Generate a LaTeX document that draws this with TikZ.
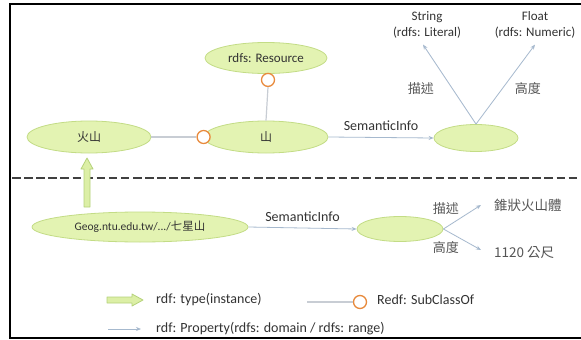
\documentclass[tikz,border=0pt]{standalone}
\usepackage{fontspec}
\setmainfont{Carlito}
\newfontfamily\cjk{Noto Sans CJK TC}
\usetikzlibrary{shapes.geometric,arrows.meta,calc}

\definecolor{ellfill}{HTML}{E3F3B2}
\definecolor{elldraw}{HTML}{C3DC86}
\definecolor{linkcol}{HTML}{A6B9CE}
\definecolor{subcol}{HTML}{C8CDD4}
\definecolor{ringcol}{HTML}{E88A3C}
\definecolor{txtcol}{HTML}{333333}
\definecolor{cjkcol}{HTML}{555555}
\definecolor{fatfill}{HTML}{DCEFA6}
\definecolor{fatdraw}{HTML}{B5D27A}

% block arrow between two points: #1 tail, #2 tip
\newcommand\fatarrow[2]{%
  \coordinate (fa@h) at ($(#2)!11pt!(#1)$);
  \fill[fatfill,draw=fatdraw,line width=0.8pt,line join=round]
    ($(#1)!3pt!90:(#2)$) -- ($(fa@h)!3pt!90:(#2)$) -- ($(fa@h)!6pt!90:(#2)$)
    -- (#2) -- ($(fa@h)!6pt!-90:(#2)$) -- ($(fa@h)!3pt!-90:(#2)$)
    -- ($(#1)!3pt!-90:(#2)$) -- cycle;}

\tikzset{
  ell/.style={ellipse,fill=ellfill,draw=elldraw,line width=0.8pt,inner sep=0pt,
    text=txtcol,font=\fontsize{12}{14}\selectfont},
  ring/.style={circle,draw=ringcol,fill=white,line width=1.3pt,minimum size=13pt,inner sep=0pt},
  prop/.style={draw=linkcol,line width=0.8pt,-{Stealth[length=5pt,width=4pt]}},
  subline/.style={draw=subcol,line width=1.2pt},
  lbl/.style={text=txtcol,font=\fontsize{14}{16}\selectfont,inner sep=1pt},
  cjklbl/.style={text=cjkcol,font=\cjk\fontsize{13}{15}\selectfont,inner sep=1pt},
}

\begin{document}
\begin{tikzpicture}[x=1pt,y=-1pt]
\useasboundingbox (0,0) rectangle (581,340);
\fill[white] (0,0) rectangle (581,340);

% frame (open to the right)
\draw[black,line width=2pt] (592,3.5) -- (10,3.5) -- (10,338) -- (592,338);

% class level
\node[ell,minimum width=124pt,minimum height=32pt] (huo) at (89,137) {\cjk 火山};
\node[ell,minimum width=124pt,minimum height=32pt] (shan) at (266,137) {\cjk 山};
\node[ell,minimum width=122pt,minimum height=31pt,font=\fontsize{13}{15}\selectfont] (res) at (266,58) {rdfs: Resource};
\node[ell,minimum width=84pt,minimum height=27pt] (sem1) at (476,138) {};

\node[ring] (oc1) at (shan.west) {};
\node[ring] (oc2) at ($(res.south)+(2,6)$) {};
\draw[subline] (huo.east) -- (oc1.west);
\draw[subline] (oc2.south) -- (shan.north);

\draw[prop] (shan.east) -- (sem1.west)
  node[midway,above=5pt,lbl] {SemanticInfo};

\node[lbl,align=center,font=\fontsize{13}{16}\selectfont] (str) at (427,25) {String\\(rdfs: Literal)};
\node[lbl,align=center,font=\fontsize{13}{16}\selectfont] (flt) at (535,25) {Float\\(rdfs: Numeric)};

\draw[prop] (sem1.north) -- ($(str.south)+(-4,5)$)
  node[pos=.45,left=17pt,cjklbl] {\cjk 描述};
\draw[prop] (sem1.north) -- ($(flt.south)+(0,5)$)
  node[pos=.45,right=11pt,cjklbl] {\cjk 高度};

% separator between classes and instances
\draw[draw=black!75,line width=2.6pt,dash pattern=on 8.5pt off 3.6pt] (12,178) -- (577,178);

% instance level
\node[ell,minimum width=216pt,minimum height=30pt,font=\fontsize{11.5}{14}\selectfont] (geog) at (140,227)
  {Geog.ntu.edu.tw/.../{\cjk 七星山}};
\node[ell,minimum width=86pt,minimum height=25pt] (sem2) at (400,229) {};

\coordinate (tyS) at (87,207);
\coordinate (tyE) at (87,158);
\fatarrow{tyS}{tyE}

\draw[prop] (geog.east) -- (sem2.west)
  node[midway,above=5pt,lbl] {SemanticInfo};

\node[cjklbl,anchor=west,font=\cjk\fontsize{13.5}{15}\selectfont] (d1) at (493,205) {錐狀火山體};
\node[cjklbl,anchor=west,font=\cjk\fontsize{13.5}{15}\selectfont] (d2) at (493,253) {1120 公尺};
\draw[prop] (sem2.east) -- ($(d1.west)+(-12,0)$)
  node[midway,anchor=south east,xshift=-2pt,yshift=1pt,cjklbl] {描述};
\draw[prop] (sem2.east) -- ($(d2.west)+(-12,-3)$)
  node[midway,anchor=north east,xshift=-2pt,yshift=-1pt,cjklbl] {高度};

% legend
\coordinate (lgA) at (107,300);
\coordinate (lgB) at (143,300);
\fatarrow{lgA}{lgB}
\node[lbl,anchor=west] (lt1) at (155,300) {rdf: type(instance)};

\coordinate (lgC) at (108,329);
\coordinate (lgD) at (141,329);
\draw[prop] (lgC) -- (lgD);
\node[lbl,anchor=west] (lt2) at (155,329) {rdf: Property(rdfs: domain / rdfs: range)};

\coordinate (lgE) at (307,302);
\node[ring] (lgR) at (360,302) {};
\draw[subline] (lgE) -- (lgR.west);
\node[lbl,anchor=west,text=txtcol] (lt3) at (376,300) {Redf: SubClassOf};
\end{tikzpicture}
\end{document}
